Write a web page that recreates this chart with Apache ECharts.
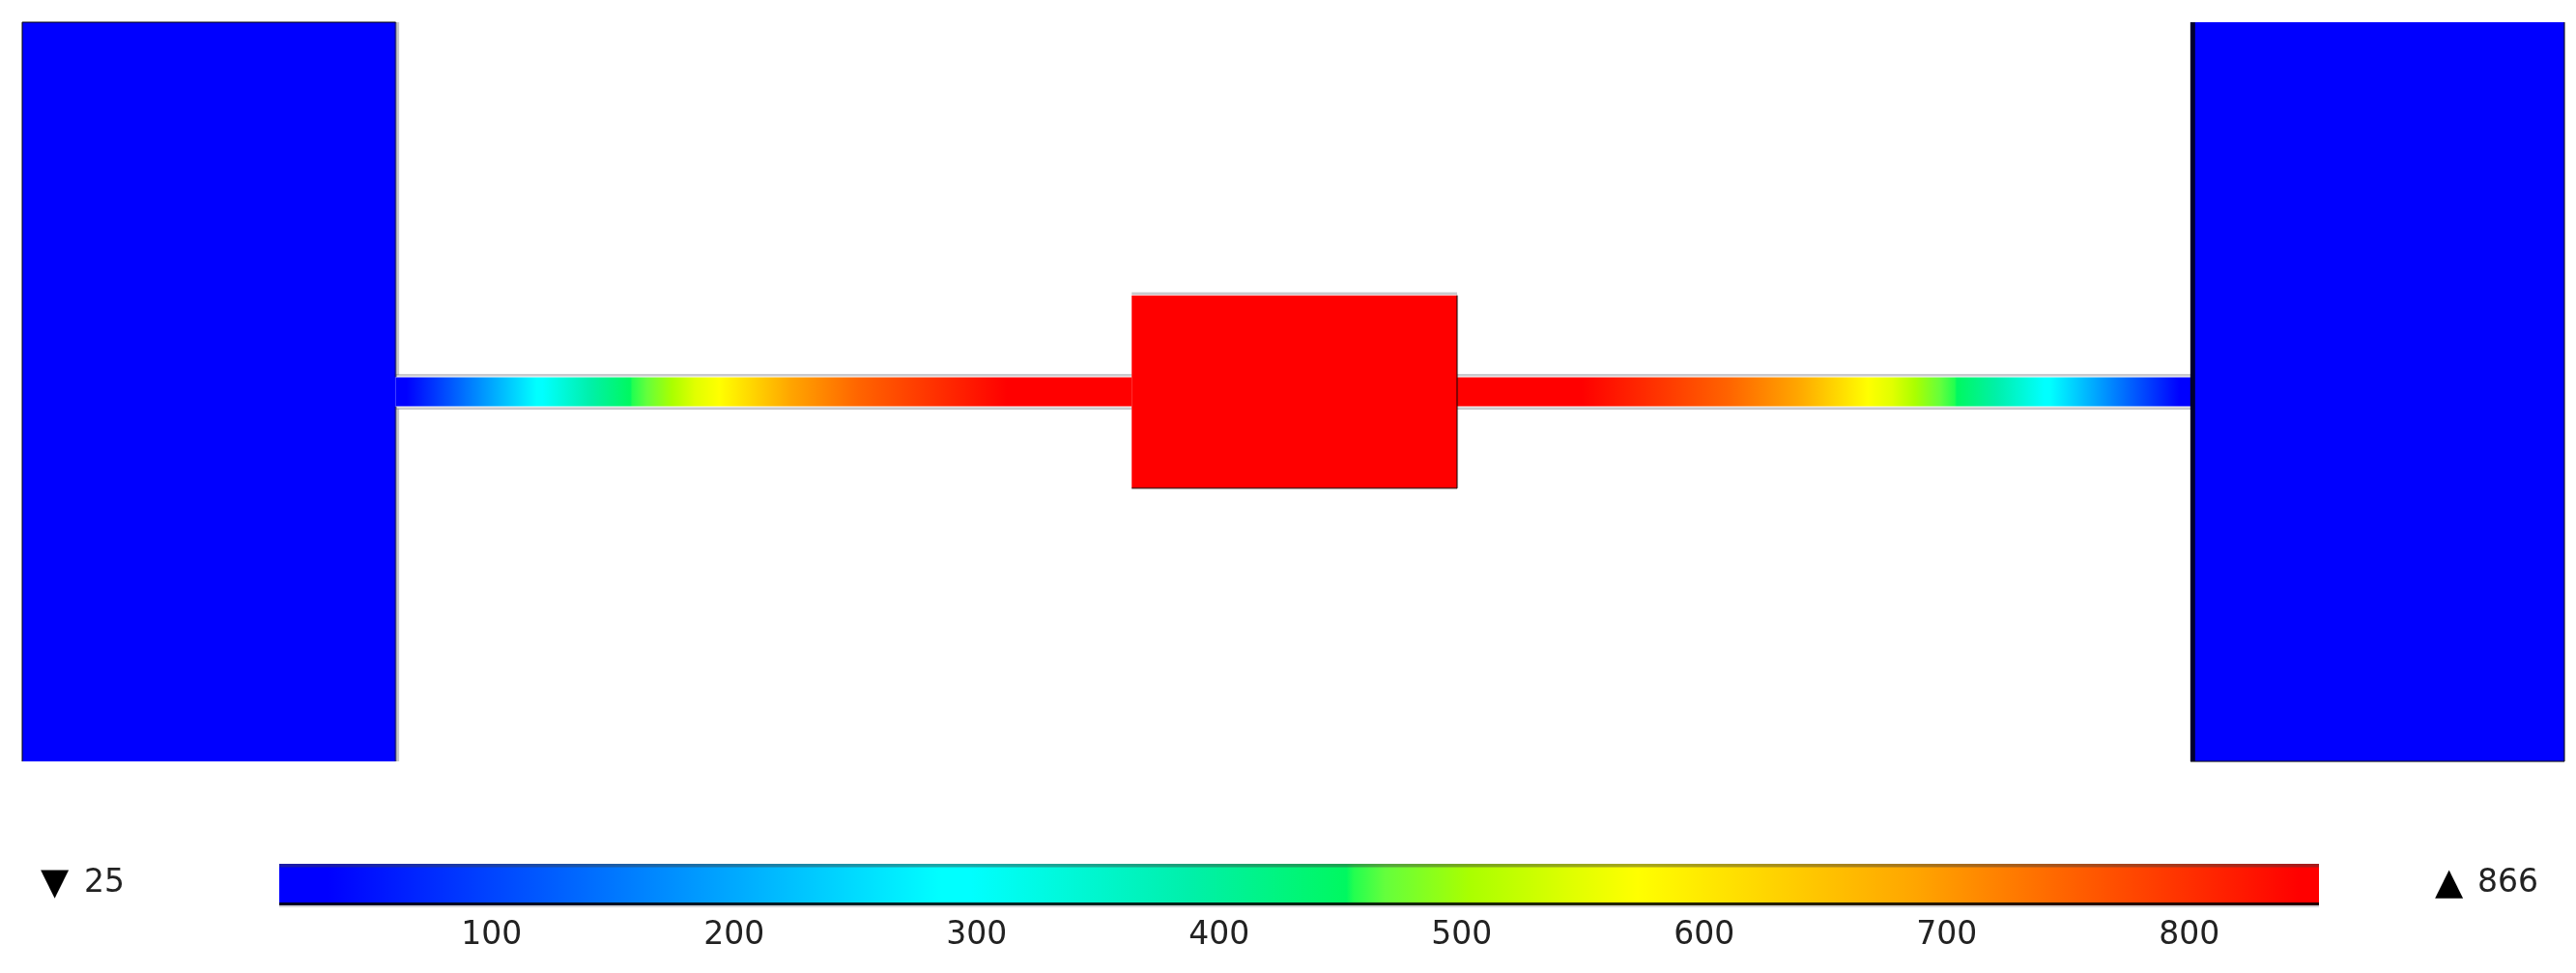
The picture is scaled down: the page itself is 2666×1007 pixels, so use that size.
<!DOCTYPE html>
<html>
<head>
<meta charset="utf-8">
<title>Temperature field</title>
<style>
  html, body { margin: 0; padding: 0; background: #fff; }
  #chart { width: 2666px; height: 1007px; }
</style>
<script src="https://cdn.jsdelivr.net/npm/echarts@6/dist/echarts.min.js"></script>
</head>
<body>
<div id="chart"></div>
<script>
// colour scale
const rangeMin = 25
const rangeMax = 866
const scaleTicks = [100, 200, 300, 400, 500, 600, 700, 800]
const scaleValues = [25, 45, 298, 310, 400, 465, 468, 481, 516, 559, 585, 700, 761, 858, 866]
const scaleColors = ['#0000ff', '#0000ff', '#00ffff', '#00ffff', '#00f0aa', '#00f860', '#22ff50', '#64ff3c',
  '#aaff00', '#e1ff00', '#ffff00', '#ffa500', '#ff6400', '#ff0000', '#ff0000']

// geometry, model units
const bodyStart = [0, 300, 586.3]
const bodyEnd = [101, 388, 687.4]
const bodyHalfHeight = [100, 26.1, 100]
const bodyTemp = [25, 866, 25]

const rodStart = [101, 388]
const rodEnd = [300, 586.3]
const rodHalfHeight = 3.95

// temperature along a rod, by distance from the cold block
const rodDistance = [0, 2.9, 38.1, 39.7, 52.5, 63.4, 64, 67.9, 74.7, 81, 87.5, 106.8, 125.3, 165.3, 199]
const rodTemp = [25, 45, 298, 310, 400, 465, 468, 481, 516, 559, 585, 700, 761, 858, 866]

// outlines [x0, y0, x1, y1]
const hardEdges = [
  [0, -100, 0, 100], [0, 100, 101, 100], [101, 100, 101, 4], [101, -4, 101, -100],
  [586.3, -100, 687.4, -100], [687.4, -100, 687.4, 100],
  [388, 26.1, 388, -26.1], [300, -26.1, 388, -26.1]
]
const softEdges = [
  [101, 4.5, 300, 4.5], [388, 4.5, 586.3, 4.5], [101, -4.5, 300, -4.5], [388, -4.5, 586.3, -4.5],
  [300, 26.6, 388, 26.6], [101.6, 100, 101.6, 4.5], [101.6, -4.5, 101.6, -100]
]
const heavyEdges = [[586.9, 100, 586.9, -100]]

const axisFont = 'DejaVu Sans'

function hexToRgb(hex) {
  return [1, 3, 5].map(i => parseInt(hex.slice(i, i + 2), 16))
}

// colour for a temperature, same lookup as the scale bar
function tempColor(t) {
  let i = scaleValues.findIndex(v => v >= t)
  if (i <= 0) return scaleColors[0]
  const f = (t - scaleValues[i - 1]) / (scaleValues[i] - scaleValues[i - 1])
  const a = hexToRgb(scaleColors[i - 1])
  const b = hexToRgb(scaleColors[i])
  return 'rgb(' + a.map((c, k) => Math.round(c + (b[k] - c) * f)).join(',') + ')'
}

const scaleGradient = scaleValues.map((v, i) => ({
  offset: (v - rangeMin) / (rangeMax - rangeMin),
  color: scaleColors[i]
}))
const rodLength = rodDistance[rodDistance.length - 1]
const leftRodGradient = rodDistance.map((d, i) => ({ offset: d / rodLength, color: tempColor(rodTemp[i]) }))
const rightRodGradient = rodDistance.map((d, i) => ({ offset: 1 - d / rodLength, color: tempColor(rodTemp[i]) })).reverse()

function rectFrom(api, x0, x1, y0, y1) {
  const a = api.coord([x0, y1])
  const b = api.coord([x1, y0])
  return { x: a[0], y: a[1], width: b[0] - a[0], height: b[1] - a[1] }
}

function edgeSeries(name, data, color, width) {
  return {
    name,
    type: 'custom',
    xAxisIndex: 0,
    yAxisIndex: 0,
    silent: true,
    encode: { x: [0, 2], y: [1, 3] },
    data,
    renderItem: (params, api) => {
      const a = api.coord([api.value(0), api.value(1)])
      const b = api.coord([api.value(2), api.value(3)])
      return {
        type: 'line',
        shape: { x1: a[0], y1: a[1], x2: b[0], y2: b[1] },
        style: { stroke: color, lineWidth: width, fill: null }
      }
    }
  }
}

const option = {
  animation: false,
  backgroundColor: '#fff',
  grid: [
    { left: 23, top: 23, width: 2631, height: 765 },
    { left: 289, top: 894, width: 2111, height: 43 }
  ],
  xAxis: [
    { type: 'value', gridIndex: 0, min: 0, max: 687.4, show: false },
    {
      type: 'value',
      gridIndex: 1,
      min: rangeMin,
      max: rangeMax,
      position: 'bottom',
      splitLine: { show: false },
      axisLine: { show: false },
      axisTick: { inside: true, length: 9, customValues: scaleTicks, lineStyle: { color: 'rgba(0,0,0,0.4)', width: 2 } },
      axisLabel: {
        customValues: scaleTicks,
        align: 'left',
        margin: 15,
        fontFamily: axisFont,
        fontSize: 33,
        color: '#222'
      }
    },
    {
      type: 'value',
      gridIndex: 1,
      min: rangeMin,
      max: rangeMax,
      position: 'top',
      splitLine: { show: false },
      axisLine: { show: false },
      axisLabel: { show: false },
      axisTick: { inside: true, length: 9, customValues: scaleTicks, lineStyle: { color: 'rgba(0,0,0,0.4)', width: 2 } }
    }
  ],
  yAxis: [
    { type: 'value', gridIndex: 0, min: -100, max: 100, show: false },
    { type: 'value', gridIndex: 1, min: 0, max: 1, show: false }
  ],
  series: [
    {
      name: 'rods',
      type: 'custom',
      xAxisIndex: 0,
      yAxisIndex: 0,
      silent: true,
      encode: { x: [0, 1] },
      data: rodStart.map((x, i) => [x, rodEnd[i], i]),
      renderItem: (params, api) => ({
        type: 'rect',
        shape: rectFrom(api, api.value(0), api.value(1), -rodHalfHeight, rodHalfHeight),
        style: {
          fill: new echarts.graphic.LinearGradient(0, 0, 1, 0,
            api.value(2) === 0 ? leftRodGradient : rightRodGradient)
        }
      })
    },
    edgeSeries('soft edges', softEdges, 'rgba(120,120,130,0.4)', 2.5),
    {
      name: 'bodies',
      type: 'custom',
      xAxisIndex: 0,
      yAxisIndex: 0,
      silent: true,
      encode: { x: [0, 1] },
      data: bodyStart.map((x, i) => [x, bodyEnd[i], bodyHalfHeight[i], bodyTemp[i]]),
      renderItem: (params, api) => ({
        type: 'rect',
        shape: rectFrom(api, api.value(0), api.value(1), -api.value(2), api.value(2)),
        style: { fill: tempColor(api.value(3)) }
      })
    },
    edgeSeries('hard edges', hardEdges, 'rgba(0,0,0,0.5)', 2),
    edgeSeries('heavy edge', heavyEdges, 'rgba(0,0,30,0.92)', 5),
    {
      name: 'scale bar',
      type: 'custom',
      xAxisIndex: 1,
      yAxisIndex: 1,
      silent: true,
      z: 1,
      encode: { x: [0, 1] },
      data: [[rangeMin, rangeMax]],
      renderItem: (params, api) => {
        const r = rectFrom(api, api.value(0), api.value(1), 0, 1)
        return {
          type: 'group',
          children: [
            { type: 'rect', shape: r, style: { fill: new echarts.graphic.LinearGradient(0, 0, 1, 0, scaleGradient) } },
            { type: 'rect', shape: { x: r.x, y: r.y, width: r.width, height: 3.5 }, style: { fill: 'rgba(60,60,60,0.45)' } },
            { type: 'rect', shape: { x: r.x, y: r.y + r.height - 3, width: r.width, height: 3 }, style: { fill: 'rgba(0,0,0,0.85)' } },
            { type: 'rect', shape: { x: r.x, y: r.y + r.height, width: r.width, height: 2 }, style: { fill: 'rgba(120,120,130,0.3)' } }
          ]
        }
      }
    }
  ],
  graphic: [
    { type: 'text', left: 42, top: 896, style: { text: '▼', font: '38px "DejaVu Sans"', fill: '#000' } },
    { type: 'text', left: 87, top: 898, style: { text: String(rangeMin), font: '33px "DejaVu Sans"', fill: '#222' } },
    { type: 'text', left: 2520, top: 896, style: { text: '▲', font: '38px "DejaVu Sans"', fill: '#000' } },
    { type: 'text', left: 2564, top: 898, style: { text: String(rangeMax), font: '33px "DejaVu Sans"', fill: '#222' } }
  ]
}

const chartInstance = echarts.init(document.getElementById('chart'))
chartInstance.setOption(option)
</script>
</body>
</html>
